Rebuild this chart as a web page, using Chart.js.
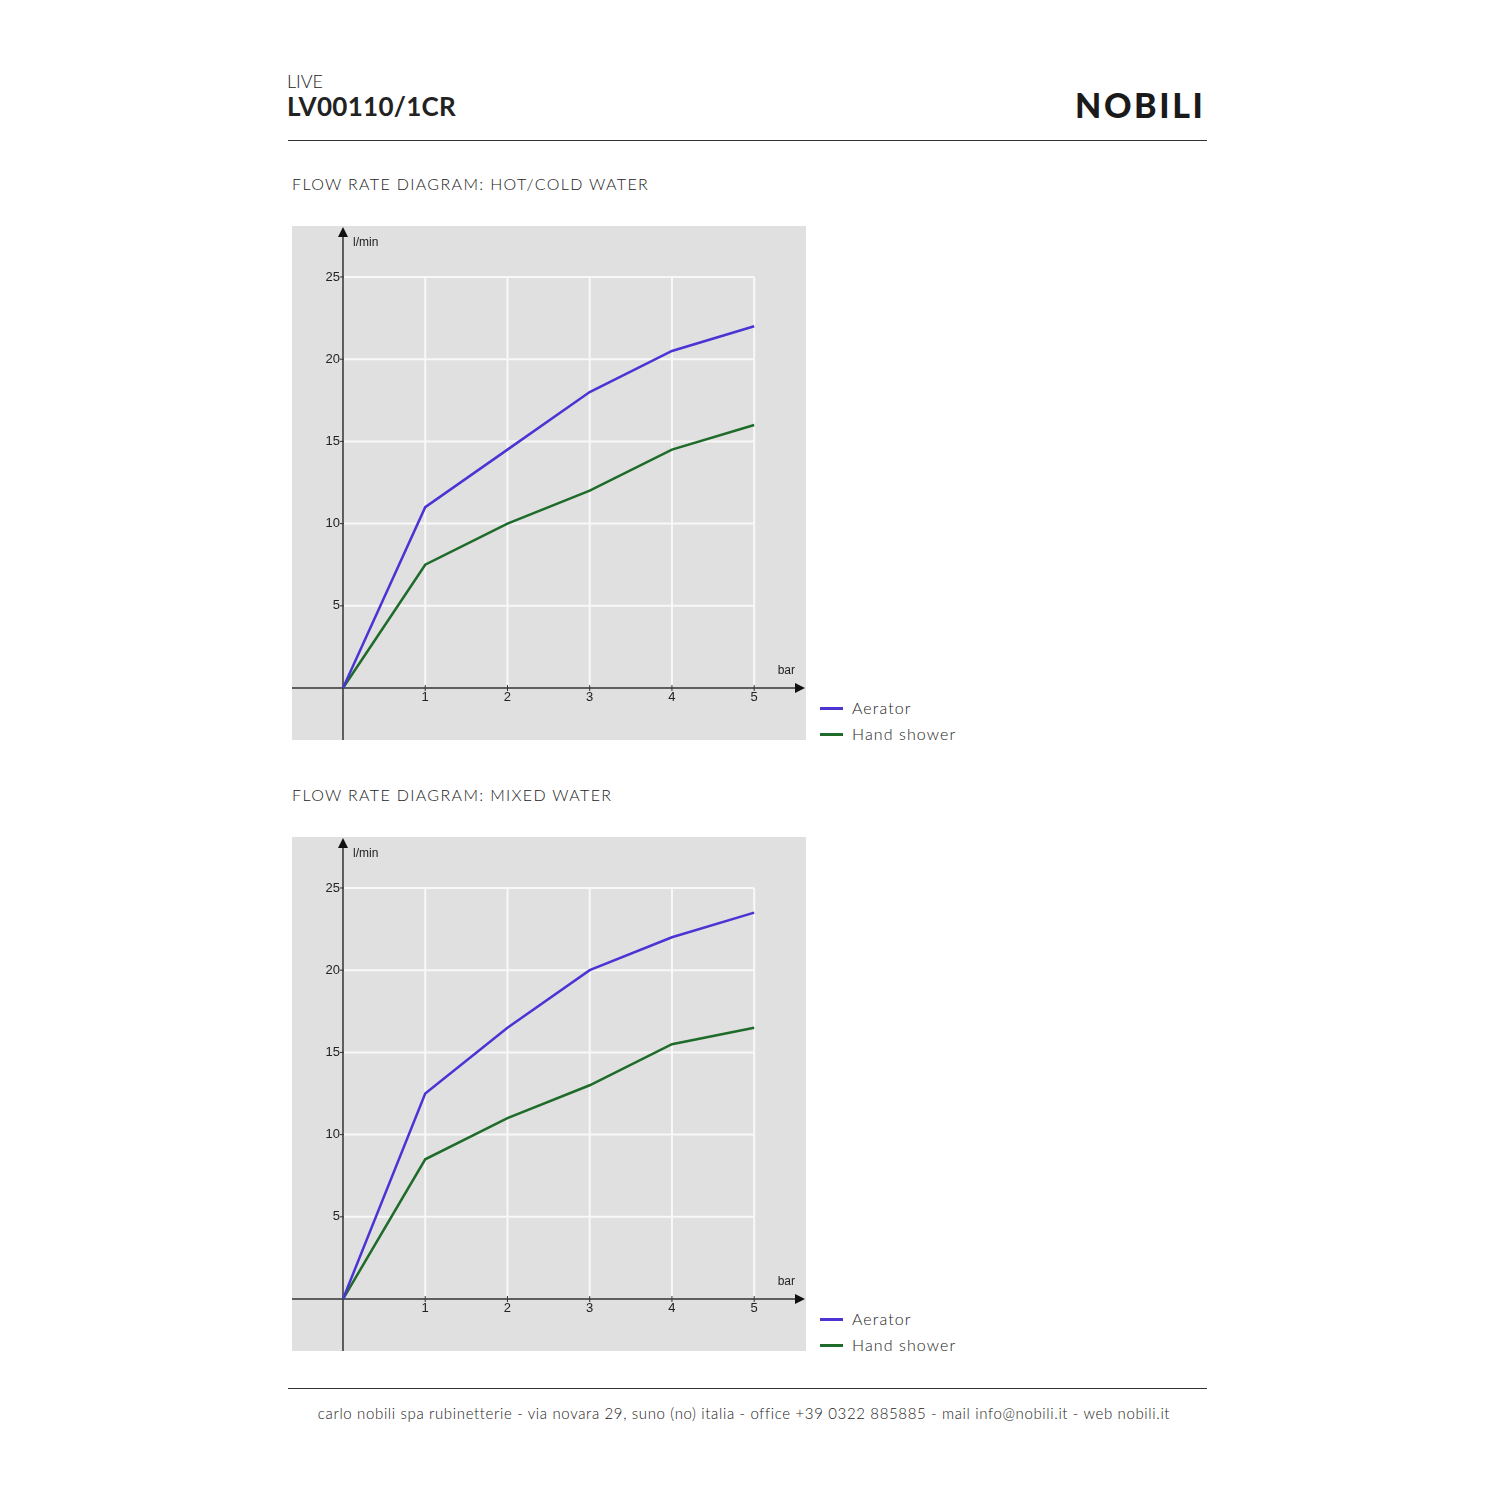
<!DOCTYPE html>
<html>
<head>
<meta charset="utf-8">
<script src="https://cdn.jsdelivr.net/npm/chart.js@4"></script>
<style>
	body { margin: 0; width: 1500px; height: 1500px; background: #fff; position: relative; font-family: Lato, 'Open Sans', sans-serif; color: #222; }
	.abs { position: absolute; white-space: nowrap; }
	.rule { position: absolute; left: 288px; width: 919px; height: 0; border-top: 1.5px solid #333; }
	.box { position: absolute; left: 292px; width: 514px; height: 514px; }
	.legend { position: absolute; left: 820px; font-size: 16px; font-weight: 300; letter-spacing: 1.1px; color: #222; }
	.legend div { height: 26px; line-height: 26px; }
	.legend span { display: inline-block; width: 23px; height: 3px; vertical-align: middle; margin-right: 9px; margin-top: -3px; }
	.title { font-size: 16px; font-weight: 300; letter-spacing: 1.35px; color: #222; }
</style>
</head>
<body>
<div class="abs" style="left:287px; top:70px; font-size:18px; font-weight:300; color:#222;">LIVE</div>
<div class="abs" style="left:287px; top:90px; font-size:26px; font-weight:700; letter-spacing:0.3px;">LV00110/1CR</div>
<div class="abs" style="left:1075px; top:84px; font-size:34px; font-weight:900; letter-spacing:2.6px; color:#1a1a1a;">NOBILI</div>
<div class="rule" style="top:140px;"></div>

<div class="abs title" style="left:292px; top:174px;">FLOW RATE DIAGRAM: HOT/COLD WATER</div>
<div class="box" style="top:226px;"><canvas id="chartHotCold"></canvas></div>
<div class="legend" id="legendHotCold" style="top:695px;"></div>

<div class="abs title" style="left:292px; top:785px;">FLOW RATE DIAGRAM: MIXED WATER</div>
<div class="box" style="top:837px;"><canvas id="chartMixed"></canvas></div>
<div class="legend" id="legendMixed" style="top:1306px;"></div>

<div class="rule" style="top:1388px;"></div>
<div class="abs" style="left:0; width:1488px; text-align:center; top:1404px; font-size:15px; font-weight:300; color:#222; letter-spacing:0.64px;">carlo nobili spa rubinetterie - via novara 29, suno (no) italia - office +39 0322 885885 - mail info@nobili.it - web nobili.it</div>

<script>
var pressure = [0, 1, 2, 3, 4, 5];
var seriesLabels = ['Aerator', 'Hand shower'];
var seriesColors = ['rgb(74, 52, 212)', 'rgb(30, 107, 42)'];

var hotColdAerator = [0, 11, 14.5, 18, 20.5, 22];
var hotColdHandShower = [0, 7.5, 10, 12, 14.5, 16];
var mixedAerator = [0, 12.5, 16.5, 20, 22, 23.5];
var mixedHandShower = [0, 8.5, 11, 13, 15.5, 16.5];

var xTicks = [1, 2, 3, 4, 5];
var yTicks = [5, 10, 15, 20, 25];
var xUnit = 'bar';
var yUnit = 'l/min';

// draws the grey panel, the short white grid, the arrowed axes and their labels
var axesPlugin = {
	id: 'axesPlugin',
	beforeDatasetsDraw: function (chart) {
		var ctx = chart.ctx;
		var area = chart.chartArea;
		var x = chart.scales.x;
		var y = chart.scales.y;
		var x0 = x.getPixelForValue(0);
		var y0 = y.getPixelForValue(0);
		var xEnd = x.getPixelForValue(xTicks[xTicks.length - 1]);
		var yEnd = y.getPixelForValue(yTicks[yTicks.length - 1]);

		ctx.save();
		ctx.fillStyle = '#e0e0e0';
		ctx.fillRect(area.left, area.top, area.right - area.left, area.bottom - area.top);

		ctx.strokeStyle = '#f8f8f8';
		ctx.lineWidth = 2;
		xTicks.forEach(function (v) {
			var px = x.getPixelForValue(v);
			ctx.beginPath();
			ctx.moveTo(px, y0);
			ctx.lineTo(px, yEnd);
			ctx.stroke();
		});
		yTicks.forEach(function (v) {
			var py = y.getPixelForValue(v);
			ctx.beginPath();
			ctx.moveTo(x0, py);
			ctx.lineTo(xEnd, py);
			ctx.stroke();
		});

		ctx.strokeStyle = '#333';
		ctx.fillStyle = '#111';
		ctx.lineWidth = 1.5;
		ctx.beginPath();
		ctx.moveTo(area.left, y0);
		ctx.lineTo(area.right - 8, y0);
		ctx.moveTo(x0, area.bottom);
		ctx.lineTo(x0, area.top + 8);
		ctx.stroke();

		ctx.beginPath();
		ctx.moveTo(area.right - 1, y0);
		ctx.lineTo(area.right - 11, y0 - 5);
		ctx.lineTo(area.right - 11, y0 + 5);
		ctx.closePath();
		ctx.fill();
		ctx.beginPath();
		ctx.moveTo(x0, area.top + 1);
		ctx.lineTo(x0 - 5, area.top + 11);
		ctx.lineTo(x0 + 5, area.top + 11);
		ctx.closePath();
		ctx.fill();

		ctx.font = '13px "Liberation Sans", Arial, sans-serif';
		ctx.fillStyle = '#222';
		ctx.lineWidth = 1;
		ctx.textAlign = 'center';
		ctx.textBaseline = 'top';
		xTicks.forEach(function (v) {
			var px = x.getPixelForValue(v);
			ctx.beginPath();
			ctx.moveTo(px, y0 - 3);
			ctx.lineTo(px, y0 + 3);
			ctx.stroke();
			ctx.fillText(String(v), px, y0 + 3);
		});
		ctx.textAlign = 'right';
		ctx.textBaseline = 'middle';
		yTicks.forEach(function (v) {
			var py = y.getPixelForValue(v);
			ctx.beginPath();
			ctx.moveTo(x0 - 3, py);
			ctx.lineTo(x0 + 1, py);
			ctx.stroke();
			ctx.fillText(String(v), x0 - 3, py);
		});

		ctx.font = '12px "Liberation Sans", Arial, sans-serif';
		ctx.textAlign = 'left';
		ctx.fillText(yUnit, x0 + 10, area.top + 17);
		ctx.textAlign = 'right';
		ctx.fillText(xUnit, area.right - 11, y0 - 17);
		ctx.restore();
	},
};

function makeChart(canvasId, legendId, aerator, handShower) {
	var values = [aerator, handShower];
	new Chart(document.getElementById(canvasId), {
		type: 'line',
		data: {
			datasets: values.map(function (vals, i) {
				return {
					label: seriesLabels[i],
					data: pressure.map(function (p, j) {
						return { x: p, y: vals[j] };
					}),
					borderColor: seriesColors[i],
					borderWidth: 2.5,
					pointRadius: 0,
					tension: 0,
					fill: false,
				};
			}),
		},
		options: {
			responsive: true,
			maintainAspectRatio: false,
			animation: false,
			layout: { padding: 0 },
			scales: {
				x: { type: 'linear', min: -0.62, max: 5.63, display: false },
				y: { type: 'linear', min: -3.16, max: 28.1, display: false },
			},
			plugins: {
				legend: { display: false },
				tooltip: { enabled: false },
			},
		},
		plugins: [axesPlugin],
	});

	document.getElementById(legendId).innerHTML = seriesLabels
		.map(function (label, i) {
			return '<div><span style="background:' + seriesColors[i] + '"></span>' + label + '</div>';
		})
		.join('');
}

makeChart('chartHotCold', 'legendHotCold', hotColdAerator, hotColdHandShower);
makeChart('chartMixed', 'legendMixed', mixedAerator, mixedHandShower);
</script>
</body>
</html>
